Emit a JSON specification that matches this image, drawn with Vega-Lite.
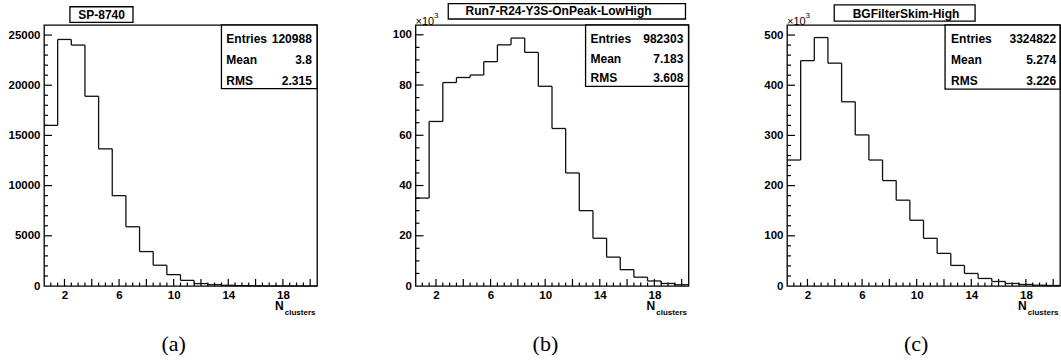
{
  "$schema": "https://vega.github.io/schema/vega-lite/v6.json",
  "background": "white",
  "padding": {"left": 7, "top": 2, "right": 0, "bottom": 0},
  "config": {
    "view": {"stroke": "black", "strokeWidth": 1.3},
    "axis": {"domain": false, "grid": false, "ticks": false, "labelFont": "Liberation Sans", "labelFontWeight": "bold", "labelFontSize": 11.5, "labelColor": "black", "labelOverlap": false, "labelFlush": false, "labelBound": false, "title": null},
    "text": {"font": "Liberation Sans", "fontWeight": "bold", "fontSize": 12, "color": "black", "baseline": "middle"},
    "rule": {"color": "#111", "strokeWidth": 1.3}
  },
  "datasets": {
    "hA": [
      {"lo": 0.5, "hi": 1.5, "count": 16000}, {"lo": 1.5, "hi": 2.5, "count": 24560}, {"lo": 2.5, "hi": 3.5, "count": 24000}, {"lo": 3.5, "hi": 4.5, "count": 18900}, {"lo": 4.5, "hi": 5.5, "count": 13660},
      {"lo": 5.5, "hi": 6.5, "count": 9000}, {"lo": 6.5, "hi": 7.5, "count": 5900}, {"lo": 7.5, "hi": 8.5, "count": 3430}, {"lo": 8.5, "hi": 9.5, "count": 2070}, {"lo": 9.5, "hi": 10.5, "count": 1130},
      {"lo": 10.5, "hi": 11.5, "count": 560}, {"lo": 11.5, "hi": 12.5, "count": 240}, {"lo": 12.5, "hi": 13.5, "count": 130}, {"lo": 13.5, "hi": 14.5, "count": 70}, {"lo": 14.5, "hi": 15.5, "count": 35},
      {"lo": 15.5, "hi": 16.5, "count": 20}, {"lo": 16.5, "hi": 17.5, "count": 10}, {"lo": 17.5, "hi": 18.5, "count": 5}, {"lo": 18.5, "hi": 19.5, "count": 3}, {"lo": 19.5, "hi": 20.5, "count": 1}
    ],
    "hB": [
      {"lo": 0.5, "hi": 1.5, "count": 35000}, {"lo": 1.5, "hi": 2.5, "count": 65500}, {"lo": 2.5, "hi": 3.5, "count": 81000}, {"lo": 3.5, "hi": 4.5, "count": 83000}, {"lo": 4.5, "hi": 5.5, "count": 84000},
      {"lo": 5.5, "hi": 6.5, "count": 89300}, {"lo": 6.5, "hi": 7.5, "count": 96000}, {"lo": 7.5, "hi": 8.5, "count": 98700}, {"lo": 8.5, "hi": 9.5, "count": 93000}, {"lo": 9.5, "hi": 10.5, "count": 79500},
      {"lo": 10.5, "hi": 11.5, "count": 62700}, {"lo": 11.5, "hi": 12.5, "count": 45000}, {"lo": 12.5, "hi": 13.5, "count": 30000}, {"lo": 13.5, "hi": 14.5, "count": 19000}, {"lo": 14.5, "hi": 15.5, "count": 11500},
      {"lo": 15.5, "hi": 16.5, "count": 6500}, {"lo": 16.5, "hi": 17.5, "count": 3500}, {"lo": 17.5, "hi": 18.5, "count": 2000}, {"lo": 18.5, "hi": 19.5, "count": 1000}, {"lo": 19.5, "hi": 20.5, "count": 500}
    ],
    "hC": [
      {"lo": 0.5, "hi": 1.5, "count": 251000}, {"lo": 1.5, "hi": 2.5, "count": 449000}, {"lo": 2.5, "hi": 3.5, "count": 495000}, {"lo": 3.5, "hi": 4.5, "count": 444000}, {"lo": 4.5, "hi": 5.5, "count": 367000},
      {"lo": 5.5, "hi": 6.5, "count": 301000}, {"lo": 6.5, "hi": 7.5, "count": 251000}, {"lo": 7.5, "hi": 8.5, "count": 210000}, {"lo": 8.5, "hi": 9.5, "count": 171000}, {"lo": 9.5, "hi": 10.5, "count": 131000},
      {"lo": 10.5, "hi": 11.5, "count": 95000}, {"lo": 11.5, "hi": 12.5, "count": 65000}, {"lo": 12.5, "hi": 13.5, "count": 41000}, {"lo": 13.5, "hi": 14.5, "count": 25000}, {"lo": 14.5, "hi": 15.5, "count": 15000},
      {"lo": 15.5, "hi": 16.5, "count": 9000}, {"lo": 16.5, "hi": 17.5, "count": 5000}, {"lo": 17.5, "hi": 18.5, "count": 3000}, {"lo": 18.5, "hi": 19.5, "count": 1500}, {"lo": 19.5, "hi": 20.5, "count": 1000}
    ],
    "xt": [
      {"v": 1}, {"v": 1.5}, {"v": 2}, {"v": 2.5}, {"v": 3}, {"v": 3.5}, {"v": 4}, {"v": 4.5}, {"v": 5}, {"v": 5.5}, {"v": 6}, {"v": 6.5}, {"v": 7}, {"v": 7.5}, {"v": 8}, {"v": 8.5}, {"v": 9}, {"v": 9.5}, {"v": 10}, {"v": 10.5},
      {"v": 11}, {"v": 11.5}, {"v": 12}, {"v": 12.5}, {"v": 13}, {"v": 13.5}, {"v": 14}, {"v": 14.5}, {"v": 15}, {"v": 15.5}, {"v": 16}, {"v": 16.5}, {"v": 17}, {"v": 17.5}, {"v": 18}, {"v": 18.5}, {"v": 19}, {"v": 19.5}, {"v": 20}
    ],
    "ytA": [
      {"v": 1000}, {"v": 2000}, {"v": 3000}, {"v": 4000}, {"v": 5000}, {"v": 6000}, {"v": 7000}, {"v": 8000}, {"v": 9000}, {"v": 10000}, {"v": 11000}, {"v": 12000}, {"v": 13000},
      {"v": 14000}, {"v": 15000}, {"v": 16000}, {"v": 17000}, {"v": 18000}, {"v": 19000}, {"v": 20000}, {"v": 21000}, {"v": 22000}, {"v": 23000}, {"v": 24000}, {"v": 25000}
    ],
    "ytB": [
      {"v": 5000}, {"v": 10000}, {"v": 15000}, {"v": 20000}, {"v": 25000}, {"v": 30000}, {"v": 35000}, {"v": 40000}, {"v": 45000}, {"v": 50000},
      {"v": 55000}, {"v": 60000}, {"v": 65000}, {"v": 70000}, {"v": 75000}, {"v": 80000}, {"v": 85000}, {"v": 90000}, {"v": 95000}, {"v": 100000}
    ],
    "ytC": [
      {"v": 20000}, {"v": 40000}, {"v": 60000}, {"v": 80000}, {"v": 100000}, {"v": 120000}, {"v": 140000}, {"v": 160000}, {"v": 180000}, {"v": 200000}, {"v": 220000}, {"v": 240000}, {"v": 260000},
      {"v": 280000}, {"v": 300000}, {"v": 320000}, {"v": 340000}, {"v": 360000}, {"v": 380000}, {"v": 400000}, {"v": 420000}, {"v": 440000}, {"v": 460000}, {"v": 480000}, {"v": 500000}
    ]
  },
  "hconcat": [
    {
      "width": 273, "height": 261,
      "layer": [
        {
          "data": {"name": "hA"},
          "transform": [{"window": [{"op": "lag", "field": "count", "as": "prev"}], "sort": [{"field": "lo", "order": "ascending"}]}],
          "layer": [
            {"mark": {"type": "rule"},
             "encoding": {
               "x": {"field": "lo", "type": "quantitative", "scale": {"domain": [0.5, 20.5], "nice": false, "zero": false},
                     "axis": {"values": [2,4,6,8,10,12,14,16,18,20], "ticks": false, "labelPadding": 3.5, "labelOverlap": false, "title": null}},
               "x2": {"field": "hi"},
               "y": {"field": "count", "type": "quantitative", "scale": {"domain": [0, 26000], "nice": false},
                     "axis": {"values": [0,5000,10000,15000,20000,25000], "format": "d", "ticks": false, "labelPadding": 4, "labelOverlap": false, "title": null}}
             }},
            {"mark": {"type": "rule"},
             "encoding": {"x": {"field": "lo", "type": "quantitative"}, "y": {"field": "prev", "type": "quantitative"}, "y2": {"field": "count"}}}
          ]
        },
        {
          "layer": [
            {"data": {"name": "xt"}, "transform": [{"filter": "datum.v % 2 === 0"}], "mark": {"type": "rule", "strokeWidth": 1.2, "color": "black"},
             "encoding": {"x": {"field": "v", "type": "quantitative", "scale": {"domain": [0.5, 20.5], "nice": false, "zero": false}, "axis": null},
                          "y": {"datum": 0, "type": "quantitative", "scale": {"domain": [0, 26000], "nice": false}, "axis": null}, "y2": {"datum": 700}}},
            {"data": {"name": "xt"}, "transform": [{"filter": "datum.v % 2 !== 0"}], "mark": {"type": "rule", "strokeWidth": 1.2, "color": "black"},
             "encoding": {"x": {"field": "v", "type": "quantitative", "scale": {"domain": [0.5, 20.5], "nice": false, "zero": false}, "axis": null},
                          "y": {"datum": 0, "type": "quantitative", "scale": {"domain": [0, 26000], "nice": false}, "axis": null}, "y2": {"datum": 350}}},
            {"data": {"name": "ytA"}, "transform": [{"filter": "datum.v % 5000 === 0"}], "mark": {"type": "rule", "strokeWidth": 1.2, "color": "black"},
             "encoding": {"y": {"field": "v", "type": "quantitative", "scale": {"domain": [0, 26000], "nice": false}, "axis": null},
                          "x": {"datum": 0.5, "type": "quantitative", "scale": {"domain": [0.5, 20.5], "nice": false, "zero": false}, "axis": null}, "x2": {"datum": 1.086}}},
            {"data": {"name": "ytA"}, "transform": [{"filter": "datum.v % 5000 !== 0"}], "mark": {"type": "rule", "strokeWidth": 1.2, "color": "black"},
             "encoding": {"y": {"field": "v", "type": "quantitative", "scale": {"domain": [0, 26000], "nice": false}, "axis": null},
                          "x": {"datum": 0.5, "type": "quantitative", "scale": {"domain": [0.5, 20.5], "nice": false, "zero": false}, "axis": null}, "x2": {"datum": 0.793}}}
          ]
        },
        {
          "data": {"values": [{}]},
          "layer": [
            {"mark": {"type": "rect", "fill": "white", "stroke": "black", "strokeWidth": 1.3},
             "encoding": {"x": {"datum": 0.095, "type": "quantitative", "scale": {"domain": [0, 1], "nice": false, "zero": false}, "axis": null}, "x2": {"datum": 0.326},
                          "y": {"datum": 1.010, "type": "quantitative", "scale": {"domain": [0, 1], "nice": false, "zero": false}, "axis": null}, "y2": {"datum": 1.070}}},
            {"mark": {"type": "text", "align": "center"},
             "encoding": {"x": {"datum": 0.211, "type": "quantitative", "scale": {"domain": [0, 1], "nice": false, "zero": false}, "axis": null},
                          "y": {"datum": 1.040, "type": "quantitative", "scale": {"domain": [0, 1], "nice": false, "zero": false}, "axis": null}, "text": {"value": "SP-8740"}}},
            {"mark": {"type": "rect", "fill": "white", "stroke": "black", "strokeWidth": 1.3},
             "encoding": {"x": {"datum": 0.650, "type": "quantitative", "scale": {"domain": [0, 1], "nice": false, "zero": false}, "axis": null}, "x2": {"datum": 1.0},
                          "y": {"datum": 0.756, "type": "quantitative", "scale": {"domain": [0, 1], "nice": false, "zero": false}, "axis": null}, "y2": {"datum": 1.0}}},
            {"mark": {"type": "text", "align": "left"},
             "encoding": {"x": {"datum": 0.668, "type": "quantitative", "scale": {"domain": [0, 1], "nice": false, "zero": false}, "axis": null},
                          "y": {"datum": 0.947, "type": "quantitative", "scale": {"domain": [0, 1], "nice": false, "zero": false}, "axis": null}, "text": {"value": "Entries"}}},
            {"mark": {"type": "text", "align": "right"},
             "encoding": {"x": {"datum": 0.981, "type": "quantitative", "scale": {"domain": [0, 1], "nice": false, "zero": false}, "axis": null},
                          "y": {"datum": 0.947, "type": "quantitative", "scale": {"domain": [0, 1], "nice": false, "zero": false}, "axis": null}, "text": {"value": "120988"}}},
            {"mark": {"type": "text", "align": "left"},
             "encoding": {"x": {"datum": 0.668, "type": "quantitative", "scale": {"domain": [0, 1], "nice": false, "zero": false}, "axis": null},
                          "y": {"datum": 0.866, "type": "quantitative", "scale": {"domain": [0, 1], "nice": false, "zero": false}, "axis": null}, "text": {"value": "Mean"}}},
            {"mark": {"type": "text", "align": "right"},
             "encoding": {"x": {"datum": 0.981, "type": "quantitative", "scale": {"domain": [0, 1], "nice": false, "zero": false}, "axis": null},
                          "y": {"datum": 0.866, "type": "quantitative", "scale": {"domain": [0, 1], "nice": false, "zero": false}, "axis": null}, "text": {"value": "3.8"}}},
            {"mark": {"type": "text", "align": "left"},
             "encoding": {"x": {"datum": 0.668, "type": "quantitative", "scale": {"domain": [0, 1], "nice": false, "zero": false}, "axis": null},
                          "y": {"datum": 0.785, "type": "quantitative", "scale": {"domain": [0, 1], "nice": false, "zero": false}, "axis": null}, "text": {"value": "RMS"}}},
            {"mark": {"type": "text", "align": "right"},
             "encoding": {"x": {"datum": 0.981, "type": "quantitative", "scale": {"domain": [0, 1], "nice": false, "zero": false}, "axis": null},
                          "y": {"datum": 0.785, "type": "quantitative", "scale": {"domain": [0, 1], "nice": false, "zero": false}, "axis": null}, "text": {"value": "2.315"}}},
            {"mark": {"type": "text", "align": "left"},
             "encoding": {"x": {"datum": 0.846, "type": "quantitative", "scale": {"domain": [0, 1], "nice": false, "zero": false}, "axis": null},
                          "y": {"datum": -0.077, "type": "quantitative", "scale": {"domain": [0, 1], "nice": false, "zero": false}, "axis": null}, "text": {"value": "N"}}},
            {"mark": {"type": "text", "align": "left", "fontSize": 8},
             "encoding": {"x": {"datum": 0.882, "type": "quantitative", "scale": {"domain": [0, 1], "nice": false, "zero": false}, "axis": null},
                          "y": {"datum": -0.104, "type": "quantitative", "scale": {"domain": [0, 1], "nice": false, "zero": false}, "axis": null}, "text": {"value": "clusters"}}},
            {"mark": {"type": "text", "align": "center", "font": "Liberation Serif", "fontWeight": "normal", "fontSize": 22},
             "encoding": {"x": {"datum": 0.475, "type": "quantitative", "scale": {"domain": [0, 1], "nice": false, "zero": false}, "axis": null},
                          "y": {"datum": -0.222, "type": "quantitative", "scale": {"domain": [0, 1], "nice": false, "zero": false}, "axis": null}, "text": {"value": "(a)"}}}
          ]
        }
      ],
      "resolve": {"scale": {"x": "independent", "y": "independent"}}
    },
    {
      "width": 273, "height": 261,
      "layer": [
        {
          "data": {"name": "hB"},
          "transform": [{"window": [{"op": "lag", "field": "count", "as": "prev"}], "sort": [{"field": "lo", "order": "ascending"}]}],
          "layer": [
            {"mark": {"type": "rule"},
             "encoding": {
               "x": {"field": "lo", "type": "quantitative", "scale": {"domain": [0.5, 20.5], "nice": false, "zero": false},
                     "axis": {"values": [2,4,6,8,10,12,14,16,18,20], "ticks": false, "labelPadding": 3.5, "labelOverlap": false, "title": null}},
               "x2": {"field": "hi"},
               "y": {"field": "count", "type": "quantitative", "scale": {"domain": [0, 103900], "nice": false},
                     "axis": {"values": [0,20000,40000,60000,80000,100000], "labelExpr": "format(datum.value / 1000, 'd')", "ticks": false, "labelPadding": 4, "labelOverlap": false, "title": null}}
             }},
            {"mark": {"type": "rule"},
             "encoding": {"x": {"field": "lo", "type": "quantitative"}, "y": {"field": "prev", "type": "quantitative"}, "y2": {"field": "count"}}}
          ]
        },
        {
          "layer": [
            {"data": {"name": "xt"}, "transform": [{"filter": "datum.v % 2 === 0"}], "mark": {"type": "rule", "strokeWidth": 1.2, "color": "black"},
             "encoding": {"x": {"field": "v", "type": "quantitative", "scale": {"domain": [0.5, 20.5], "nice": false, "zero": false}, "axis": null},
                          "y": {"datum": 0, "type": "quantitative", "scale": {"domain": [0, 103900], "nice": false}, "axis": null}, "y2": {"datum": 2790}}},
            {"data": {"name": "xt"}, "transform": [{"filter": "datum.v % 2 !== 0"}], "mark": {"type": "rule", "strokeWidth": 1.2, "color": "black"},
             "encoding": {"x": {"field": "v", "type": "quantitative", "scale": {"domain": [0.5, 20.5], "nice": false, "zero": false}, "axis": null},
                          "y": {"datum": 0, "type": "quantitative", "scale": {"domain": [0, 103900], "nice": false}, "axis": null}, "y2": {"datum": 1395}}},
            {"data": {"name": "ytB"}, "transform": [{"filter": "datum.v % 20000 === 0"}], "mark": {"type": "rule", "strokeWidth": 1.2, "color": "black"},
             "encoding": {"y": {"field": "v", "type": "quantitative", "scale": {"domain": [0, 103900], "nice": false}, "axis": null},
                          "x": {"datum": 0.5, "type": "quantitative", "scale": {"domain": [0.5, 20.5], "nice": false, "zero": false}, "axis": null}, "x2": {"datum": 1.086}}},
            {"data": {"name": "ytB"}, "transform": [{"filter": "datum.v % 20000 !== 0"}], "mark": {"type": "rule", "strokeWidth": 1.2, "color": "black"},
             "encoding": {"y": {"field": "v", "type": "quantitative", "scale": {"domain": [0, 103900], "nice": false}, "axis": null},
                          "x": {"datum": 0.5, "type": "quantitative", "scale": {"domain": [0.5, 20.5], "nice": false, "zero": false}, "axis": null}, "x2": {"datum": 0.793}}}
          ]
        },
        {
          "data": {"values": [{}]},
          "layer": [
            {"mark": {"type": "rect", "fill": "white", "stroke": "black", "strokeWidth": 1.3},
             "encoding": {"x": {"datum": 0.120, "type": "quantitative", "scale": {"domain": [0, 1], "nice": false, "zero": false}, "axis": null}, "x2": {"datum": 0.989},
                          "y": {"datum": 1.023, "type": "quantitative", "scale": {"domain": [0, 1], "nice": false, "zero": false}, "axis": null}, "y2": {"datum": 1.082}}},
            {"mark": {"type": "text", "align": "center"},
             "encoding": {"x": {"datum": 0.524, "type": "quantitative", "scale": {"domain": [0, 1], "nice": false, "zero": false}, "axis": null},
                          "y": {"datum": 1.052, "type": "quantitative", "scale": {"domain": [0, 1], "nice": false, "zero": false}, "axis": null}, "text": {"value": "Run7-R24-Y3S-OnPeak-LowHigh"}}},
            {"mark": {"type": "rect", "fill": "white", "stroke": "black", "strokeWidth": 1.3},
             "encoding": {"x": {"datum": 0.623, "type": "quantitative", "scale": {"domain": [0, 1], "nice": false, "zero": false}, "axis": null}, "x2": {"datum": 1.0},
                          "y": {"datum": 0.765, "type": "quantitative", "scale": {"domain": [0, 1], "nice": false, "zero": false}, "axis": null}, "y2": {"datum": 1.0}}},
            {"mark": {"type": "text", "align": "left"},
             "encoding": {"x": {"datum": 0.641, "type": "quantitative", "scale": {"domain": [0, 1], "nice": false, "zero": false}, "axis": null},
                          "y": {"datum": 0.947, "type": "quantitative", "scale": {"domain": [0, 1], "nice": false, "zero": false}, "axis": null}, "text": {"value": "Entries"}}},
            {"mark": {"type": "text", "align": "right"},
             "encoding": {"x": {"datum": 0.981, "type": "quantitative", "scale": {"domain": [0, 1], "nice": false, "zero": false}, "axis": null},
                          "y": {"datum": 0.947, "type": "quantitative", "scale": {"domain": [0, 1], "nice": false, "zero": false}, "axis": null}, "text": {"value": "982303"}}},
            {"mark": {"type": "text", "align": "left"},
             "encoding": {"x": {"datum": 0.641, "type": "quantitative", "scale": {"domain": [0, 1], "nice": false, "zero": false}, "axis": null},
                          "y": {"datum": 0.871, "type": "quantitative", "scale": {"domain": [0, 1], "nice": false, "zero": false}, "axis": null}, "text": {"value": "Mean"}}},
            {"mark": {"type": "text", "align": "right"},
             "encoding": {"x": {"datum": 0.981, "type": "quantitative", "scale": {"domain": [0, 1], "nice": false, "zero": false}, "axis": null},
                          "y": {"datum": 0.871, "type": "quantitative", "scale": {"domain": [0, 1], "nice": false, "zero": false}, "axis": null}, "text": {"value": "7.183"}}},
            {"mark": {"type": "text", "align": "left"},
             "encoding": {"x": {"datum": 0.641, "type": "quantitative", "scale": {"domain": [0, 1], "nice": false, "zero": false}, "axis": null},
                          "y": {"datum": 0.798, "type": "quantitative", "scale": {"domain": [0, 1], "nice": false, "zero": false}, "axis": null}, "text": {"value": "RMS"}}},
            {"mark": {"type": "text", "align": "right"},
             "encoding": {"x": {"datum": 0.981, "type": "quantitative", "scale": {"domain": [0, 1], "nice": false, "zero": false}, "axis": null},
                          "y": {"datum": 0.798, "type": "quantitative", "scale": {"domain": [0, 1], "nice": false, "zero": false}, "axis": null}, "text": {"value": "3.608"}}},
            {"mark": {"type": "text", "align": "left", "fontWeight": "normal", "fontSize": 11},
             "encoding": {"x": {"datum": 0.0, "type": "quantitative", "scale": {"domain": [0, 1], "nice": false, "zero": false}, "axis": null},
                          "y": {"datum": 1.011, "type": "quantitative", "scale": {"domain": [0, 1], "nice": false, "zero": false}, "axis": null}, "text": {"value": "×10"}}},
            {"mark": {"type": "text", "align": "left", "fontWeight": "normal", "fontSize": 8},
             "encoding": {"x": {"datum": 0.068, "type": "quantitative", "scale": {"domain": [0, 1], "nice": false, "zero": false}, "axis": null},
                          "y": {"datum": 1.033, "type": "quantitative", "scale": {"domain": [0, 1], "nice": false, "zero": false}, "axis": null}, "text": {"value": "3"}}},
            {"mark": {"type": "text", "align": "left"},
             "encoding": {"x": {"datum": 0.846, "type": "quantitative", "scale": {"domain": [0, 1], "nice": false, "zero": false}, "axis": null},
                          "y": {"datum": -0.077, "type": "quantitative", "scale": {"domain": [0, 1], "nice": false, "zero": false}, "axis": null}, "text": {"value": "N"}}},
            {"mark": {"type": "text", "align": "left", "fontSize": 8},
             "encoding": {"x": {"datum": 0.882, "type": "quantitative", "scale": {"domain": [0, 1], "nice": false, "zero": false}, "axis": null},
                          "y": {"datum": -0.104, "type": "quantitative", "scale": {"domain": [0, 1], "nice": false, "zero": false}, "axis": null}, "text": {"value": "clusters"}}},
            {"mark": {"type": "text", "align": "center", "font": "Liberation Serif", "fontWeight": "normal", "fontSize": 22},
             "encoding": {"x": {"datum": 0.476, "type": "quantitative", "scale": {"domain": [0, 1], "nice": false, "zero": false}, "axis": null},
                          "y": {"datum": -0.222, "type": "quantitative", "scale": {"domain": [0, 1], "nice": false, "zero": false}, "axis": null}, "text": {"value": "(b)"}}}
          ]
        }
      ],
      "resolve": {"scale": {"x": "independent", "y": "independent"}}
    },
    {
      "width": 273, "height": 261,
      "layer": [
        {
          "data": {"name": "hC"},
          "transform": [{"window": [{"op": "lag", "field": "count", "as": "prev"}], "sort": [{"field": "lo", "order": "ascending"}]}],
          "layer": [
            {"mark": {"type": "rule"},
             "encoding": {
               "x": {"field": "lo", "type": "quantitative", "scale": {"domain": [0.5, 20.5], "nice": false, "zero": false},
                     "axis": {"values": [2,4,6,8,10,12,14,16,18,20], "ticks": false, "labelPadding": 3.5, "labelOverlap": false, "title": null}},
               "x2": {"field": "hi"},
               "y": {"field": "count", "type": "quantitative", "scale": {"domain": [0, 520000], "nice": false},
                     "axis": {"values": [0,100000,200000,300000,400000,500000], "labelExpr": "format(datum.value / 1000, 'd')", "ticks": false, "labelPadding": 4, "labelOverlap": false, "title": null}}
             }},
            {"mark": {"type": "rule"},
             "encoding": {"x": {"field": "lo", "type": "quantitative"}, "y": {"field": "prev", "type": "quantitative"}, "y2": {"field": "count"}}}
          ]
        },
        {
          "layer": [
            {"data": {"name": "xt"}, "transform": [{"filter": "datum.v % 2 === 0"}], "mark": {"type": "rule", "strokeWidth": 1.2, "color": "black"},
             "encoding": {"x": {"field": "v", "type": "quantitative", "scale": {"domain": [0.5, 20.5], "nice": false, "zero": false}, "axis": null},
                          "y": {"datum": 0, "type": "quantitative", "scale": {"domain": [0, 520000], "nice": false}, "axis": null}, "y2": {"datum": 13950}}},
            {"data": {"name": "xt"}, "transform": [{"filter": "datum.v % 2 !== 0"}], "mark": {"type": "rule", "strokeWidth": 1.2, "color": "black"},
             "encoding": {"x": {"field": "v", "type": "quantitative", "scale": {"domain": [0.5, 20.5], "nice": false, "zero": false}, "axis": null},
                          "y": {"datum": 0, "type": "quantitative", "scale": {"domain": [0, 520000], "nice": false}, "axis": null}, "y2": {"datum": 6975}}},
            {"data": {"name": "ytC"}, "transform": [{"filter": "datum.v % 100000 === 0"}], "mark": {"type": "rule", "strokeWidth": 1.2, "color": "black"},
             "encoding": {"y": {"field": "v", "type": "quantitative", "scale": {"domain": [0, 520000], "nice": false}, "axis": null},
                          "x": {"datum": 0.5, "type": "quantitative", "scale": {"domain": [0.5, 20.5], "nice": false, "zero": false}, "axis": null}, "x2": {"datum": 1.086}}},
            {"data": {"name": "ytC"}, "transform": [{"filter": "datum.v % 100000 !== 0"}], "mark": {"type": "rule", "strokeWidth": 1.2, "color": "black"},
             "encoding": {"y": {"field": "v", "type": "quantitative", "scale": {"domain": [0, 520000], "nice": false}, "axis": null},
                          "x": {"datum": 0.5, "type": "quantitative", "scale": {"domain": [0.5, 20.5], "nice": false, "zero": false}, "axis": null}, "x2": {"datum": 0.793}}}
          ]
        },
        {
          "data": {"values": [{}]},
          "layer": [
            {"mark": {"type": "rect", "fill": "white", "stroke": "black", "strokeWidth": 1.3},
             "encoding": {"x": {"datum": 0.173, "type": "quantitative", "scale": {"domain": [0, 1], "nice": false, "zero": false}, "axis": null}, "x2": {"datum": 0.689},
                          "y": {"datum": 1.015, "type": "quantitative", "scale": {"domain": [0, 1], "nice": false, "zero": false}, "axis": null}, "y2": {"datum": 1.077}}},
            {"mark": {"type": "text", "align": "center"},
             "encoding": {"x": {"datum": 0.436, "type": "quantitative", "scale": {"domain": [0, 1], "nice": false, "zero": false}, "axis": null},
                          "y": {"datum": 1.044, "type": "quantitative", "scale": {"domain": [0, 1], "nice": false, "zero": false}, "axis": null}, "text": {"value": "BGFilterSkim-High"}}},
            {"mark": {"type": "rect", "fill": "white", "stroke": "black", "strokeWidth": 1.3},
             "encoding": {"x": {"datum": 0.579, "type": "quantitative", "scale": {"domain": [0, 1], "nice": false, "zero": false}, "axis": null}, "x2": {"datum": 1.0},
                          "y": {"datum": 0.754, "type": "quantitative", "scale": {"domain": [0, 1], "nice": false, "zero": false}, "axis": null}, "y2": {"datum": 1.0}}},
            {"mark": {"type": "text", "align": "left"},
             "encoding": {"x": {"datum": 0.601, "type": "quantitative", "scale": {"domain": [0, 1], "nice": false, "zero": false}, "axis": null},
                          "y": {"datum": 0.945, "type": "quantitative", "scale": {"domain": [0, 1], "nice": false, "zero": false}, "axis": null}, "text": {"value": "Entries"}}},
            {"mark": {"type": "text", "align": "right"},
             "encoding": {"x": {"datum": 0.986, "type": "quantitative", "scale": {"domain": [0, 1], "nice": false, "zero": false}, "axis": null},
                          "y": {"datum": 0.945, "type": "quantitative", "scale": {"domain": [0, 1], "nice": false, "zero": false}, "axis": null}, "text": {"value": "3324822"}}},
            {"mark": {"type": "text", "align": "left"},
             "encoding": {"x": {"datum": 0.601, "type": "quantitative", "scale": {"domain": [0, 1], "nice": false, "zero": false}, "axis": null},
                          "y": {"datum": 0.865, "type": "quantitative", "scale": {"domain": [0, 1], "nice": false, "zero": false}, "axis": null}, "text": {"value": "Mean"}}},
            {"mark": {"type": "text", "align": "right"},
             "encoding": {"x": {"datum": 0.986, "type": "quantitative", "scale": {"domain": [0, 1], "nice": false, "zero": false}, "axis": null},
                          "y": {"datum": 0.865, "type": "quantitative", "scale": {"domain": [0, 1], "nice": false, "zero": false}, "axis": null}, "text": {"value": "5.274"}}},
            {"mark": {"type": "text", "align": "left"},
             "encoding": {"x": {"datum": 0.601, "type": "quantitative", "scale": {"domain": [0, 1], "nice": false, "zero": false}, "axis": null},
                          "y": {"datum": 0.785, "type": "quantitative", "scale": {"domain": [0, 1], "nice": false, "zero": false}, "axis": null}, "text": {"value": "RMS"}}},
            {"mark": {"type": "text", "align": "right"},
             "encoding": {"x": {"datum": 0.986, "type": "quantitative", "scale": {"domain": [0, 1], "nice": false, "zero": false}, "axis": null},
                          "y": {"datum": 0.785, "type": "quantitative", "scale": {"domain": [0, 1], "nice": false, "zero": false}, "axis": null}, "text": {"value": "3.226"}}},
            {"mark": {"type": "text", "align": "left", "fontWeight": "normal", "fontSize": 11},
             "encoding": {"x": {"datum": 0.0, "type": "quantitative", "scale": {"domain": [0, 1], "nice": false, "zero": false}, "axis": null},
                          "y": {"datum": 1.011, "type": "quantitative", "scale": {"domain": [0, 1], "nice": false, "zero": false}, "axis": null}, "text": {"value": "×10"}}},
            {"mark": {"type": "text", "align": "left", "fontWeight": "normal", "fontSize": 8},
             "encoding": {"x": {"datum": 0.068, "type": "quantitative", "scale": {"domain": [0, 1], "nice": false, "zero": false}, "axis": null},
                          "y": {"datum": 1.033, "type": "quantitative", "scale": {"domain": [0, 1], "nice": false, "zero": false}, "axis": null}, "text": {"value": "3"}}},
            {"mark": {"type": "text", "align": "left"},
             "encoding": {"x": {"datum": 0.846, "type": "quantitative", "scale": {"domain": [0, 1], "nice": false, "zero": false}, "axis": null},
                          "y": {"datum": -0.077, "type": "quantitative", "scale": {"domain": [0, 1], "nice": false, "zero": false}, "axis": null}, "text": {"value": "N"}}},
            {"mark": {"type": "text", "align": "left", "fontSize": 8},
             "encoding": {"x": {"datum": 0.882, "type": "quantitative", "scale": {"domain": [0, 1], "nice": false, "zero": false}, "axis": null},
                          "y": {"datum": -0.104, "type": "quantitative", "scale": {"domain": [0, 1], "nice": false, "zero": false}, "axis": null}, "text": {"value": "clusters"}}},
            {"mark": {"type": "text", "align": "center", "font": "Liberation Serif", "fontWeight": "normal", "fontSize": 22},
             "encoding": {"x": {"datum": 0.473, "type": "quantitative", "scale": {"domain": [0, 1], "nice": false, "zero": false}, "axis": null},
                          "y": {"datum": -0.222, "type": "quantitative", "scale": {"domain": [0, 1], "nice": false, "zero": false}, "axis": null}, "text": {"value": "(c)"}}}
          ]
        }
      ],
      "resolve": {"scale": {"x": "independent", "y": "independent"}}
    }
  ],
  "spacing": 98.5,
  "bounds": "flush"
}
